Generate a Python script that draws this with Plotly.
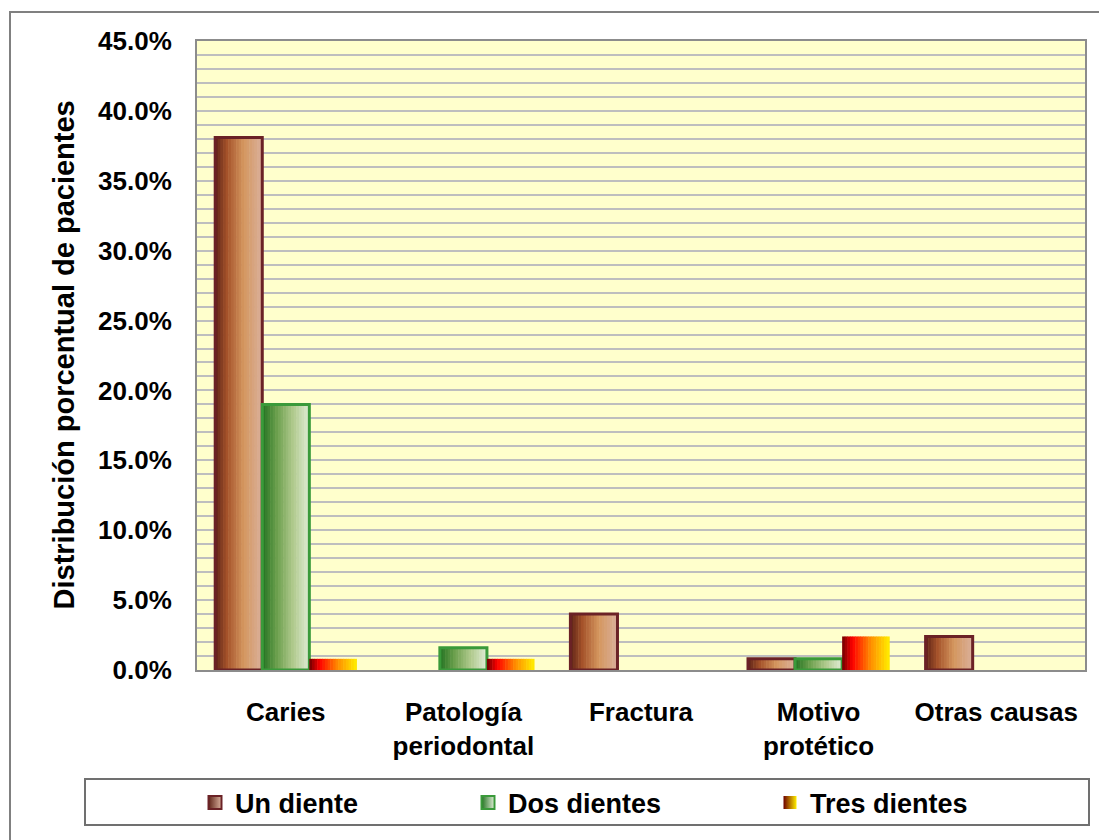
import numpy as np
import plotly.graph_objects as go

# Data: percentage of patients by extraction reason and number of teeth
categories = ["Caries", "Patología<br>periodontal", "Fractura", "Motivo<br>protético", "Otras causas"]
un_diente = [38.1, 0.0, 4.0, 0.8, 2.4]
dos_dientes = [19.0, 1.6, 0.0, 0.8, 0.0]
tres_dientes = [0.8, 0.8, 0.0, 2.4, 0.0]
series_names = ["Un diente", "Dos dientes", "Tres dientes"]
y_tick_values = [0, 5, 10, 15, 20, 25, 30, 35, 40, 45]
y_tick_labels = ["0.0%", "5.0%", "10.0%", "15.0%", "20.0%", "25.0%", "30.0%", "35.0%", "40.0%", "45.0%"]

FONT = "Liberation Sans, Arial, sans-serif"
W, H = 1099, 840
L, R, T, B = 197, 14, 41, 170
PW, PH = W - L - R, H - T - B


def px_x(p):
    return (p - L) / PW


def px_y(p):
    return (H - B - p) / PH


def hex2rgb(h):
    h = h.lstrip("#")
    return np.array([int(h[i:i + 2], 16) for i in (0, 2, 4)], dtype=float)


def gradient(stops, n):
    pos = np.array([s[0] for s in stops])
    cols = np.array([hex2rgb(s[1]) for s in stops])
    t = (np.arange(n) + 0.5) / n
    out = []
    for ti in t:
        rgb = [np.interp(ti, pos, cols[:, k]) for k in range(3)]
        out.append("rgb(%d,%d,%d)" % tuple(int(round(v)) for v in rgb))
    return out


def nonzero(vals):
    # empty categories get no bar at all
    return [v if v else None for v in vals]


BAR_W = 0.265
N_STRIPS = 18
styles = [
    dict(values=un_diente, offset=-1.5 * BAR_W,
         stops=[(0, "#5E2418"), (0.25, "#A5522A"), (0.6, "#D4965E"), (1, "#DAB09C")],
         border="#6B2226", bw=3, legend="legend"),
    dict(values=dos_dientes, offset=-0.5 * BAR_W,
         stops=[(0, "#237322"), (0.3, "#6A9E4C"), (0.65, "#AFC98C"), (1, "#E0ECD6")],
         border="#3A9A3A", bw=3, legend="legend2"),
    dict(values=tres_dientes, offset=0.5 * BAR_W,
         stops=[(0, "#6E0000"), (0.22, "#FF0000"), (0.6, "#FF8C00"), (1, "#FFEE00")],
         border=None, bw=0, legend="legend3"),
]

fig = go.Figure()

for name, st in zip(series_names, styles):
    cols = gradient(st["stops"], N_STRIPS)
    sw = BAR_W / N_STRIPS
    vals = nonzero(st["values"])
    for i, c in enumerate(cols):
        fig.add_trace(go.Bar(
            x=categories, y=vals, width=sw + 0.003, offset=st["offset"] + i * sw,
            marker=dict(color=c, line=dict(width=0)),
            showlegend=False, hoverinfo="skip",
        ))
    if st["border"]:
        fig.add_trace(go.Bar(
            x=categories, y=vals, width=BAR_W, offset=st["offset"],
            marker=dict(color="rgba(0,0,0,0)", line=dict(color=st["border"], width=st["bw"])),
            showlegend=False, name=name,
        ))
    # legend entry
    fig.add_trace(go.Scatter(
        x=[None], y=[None], mode="markers", name=name, legend=st["legend"],
        marker=dict(symbol="square", size=13, color=st["stops"][0][1],
                    gradient=dict(type="horizontal", color=st["stops"][-1][1]),
                    line=dict(color=st["border"] or "rgba(0,0,0,0)", width=2 if st["border"] else 0)),
    ))

legend_font = dict(family=FONT, size=27, color="black", weight="bold")
legend_common = dict(orientation="h", yanchor="middle", y=px_y(803), xanchor="left",
                     bgcolor="rgba(0,0,0,0)", borderwidth=0, font=legend_font)

fig.update_layout(
    width=W, height=H,
    margin=dict(l=L, r=R, t=T, b=B),
    paper_bgcolor="white",
    plot_bgcolor="#FFFFCC",
    barmode="overlay",
    showlegend=True,
    legend=dict(x=px_x(195), **legend_common),
    legend2=dict(x=px_x(468), **legend_common),
    legend3=dict(x=px_x(770), **legend_common),
    xaxis=dict(
        showgrid=False, showline=True, linecolor="#8C8C8C", linewidth=2, mirror=True,
        ticks="", ticklabelstandoff=18,
        tickfont=dict(family=FONT, size=26, color="black", weight="bold"),
    ),
    yaxis=dict(
        range=[0, 45], tickvals=y_tick_values, ticktext=y_tick_labels,
        showgrid=True, gridcolor="#BEBEBE", gridwidth=1.5,
        minor=dict(dtick=1, showgrid=True, gridcolor="#BEBEBE", gridwidth=1.5),
        showline=True, linecolor="#8C8C8C", linewidth=2, mirror=True,
        ticks="", ticklabelstandoff=18, zeroline=False,
        tickfont=dict(family=FONT, size=26, color="black", weight="bold"),
    ),
    shapes=[
        # outer chart frame
        dict(type="rect", xref="paper", yref="paper",
             x0=px_x(10), x1=px_x(1120), y0=px_y(860), y1=px_y(12),
             line=dict(color="#808080", width=2), fillcolor="rgba(0,0,0,0)", layer="below"),
        # legend frame
        dict(type="rect", xref="paper", yref="paper",
             x0=px_x(85), x1=px_x(1089), y0=px_y(825), y1=px_y(779),
             line=dict(color="#707070", width=2), fillcolor="rgba(0,0,0,0)"),
    ],
    annotations=[
        dict(text="Distribución porcentual de pacientes", xref="paper", yref="paper",
             x=px_x(63), y=0.5, xanchor="center", yanchor="middle",
             showarrow=False, textangle=-90,
             font=dict(family=FONT, size=29, color="black", weight="bold")),
    ],
)

fig.write_html("out.html")
